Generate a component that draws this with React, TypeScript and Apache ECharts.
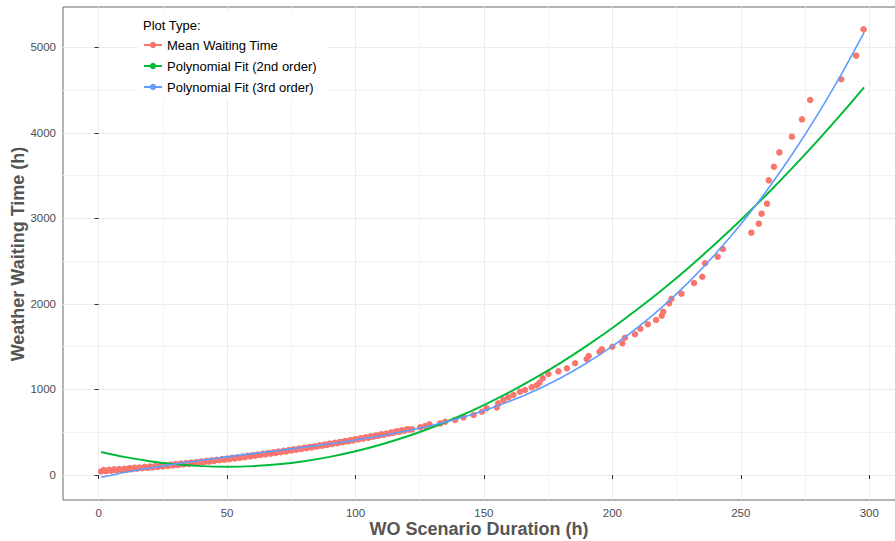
import React, { useEffect, useRef } from "react";
import * as echarts from "echarts";

// Scenario durations (h) and mean waiting times (h)
const meanDuration = [
  1, 3, 5, 7, 9, 11, 13, 15, 17, 19, 21, 23, 25, 27, 29, 31, 33, 35, 37, 39,
  41, 43, 45, 47, 49, 51, 53, 55, 57, 59, 61, 63, 65, 67, 69, 71, 73, 75, 77, 79,
  81, 83, 85, 87, 89, 91, 93, 95, 97, 99, 101, 103, 105, 107, 109, 111, 113, 115, 117, 119,
  121, 122, 125.2, 127.1, 128.8, 133, 134.9, 138.8, 142, 146, 149.2, 151.1, 155, 155.6, 157.6, 159.5,
  161.5, 164, 166, 168.6, 170.5, 171.6, 172.9, 175.1, 179, 182.3, 185.5, 190, 190.8, 195, 195.9, 200,
  203.9, 204.9, 208.8, 210.9, 213.8, 217, 219.2, 219.8, 222.1, 223, 226.9, 231.8, 235, 236.1, 241, 243,
  254.1, 257, 258.1, 260.2, 260.9, 262.9, 265, 269.9, 273.8, 277, 289.1, 294.9, 297.8,
  2, 4, 6, 8, 10, 12, 14, 16, 18, 20, 22, 24, 26, 28, 30, 32, 34, 36, 38, 40,
  42, 44, 46, 48, 50, 52, 54, 56, 58, 60, 62, 64, 66, 68, 70, 72, 74, 76, 78, 80,
  82, 84, 86, 88, 90, 92, 94, 96, 98, 100, 102, 104, 106, 108, 110, 112, 114, 116, 118, 120,
];
const meanWaiting = [
  42, 46, 50, 55, 59, 64, 69, 74, 79, 84, 90, 95, 101, 106, 112, 118, 124, 131, 137, 144,
  151, 157, 164, 172, 179, 186, 194, 201, 209, 217, 225, 234, 242, 250, 259, 268, 277, 286, 295, 304,
  314, 323, 333, 343, 353, 363, 373, 383, 394, 405, 415, 426, 437, 449, 460, 471, 483, 495, 507, 519,
  531, 534, 558, 573, 593, 604, 623, 643, 674, 701, 740, 780, 791, 838, 877, 908,
  935, 974, 994, 1025, 1050, 1079, 1130, 1181, 1212, 1247, 1306, 1356, 1391, 1441, 1469, 1500,
  1540, 1605, 1645, 1710, 1762, 1812, 1862, 1909, 2007, 2061, 2120, 2245, 2318, 2475, 2552, 2642,
  2833, 2938, 3055, 3172, 3445, 3604, 3772, 3955, 4158, 4384, 4626, 4902, 5210,
  58, 60, 66, 70, 73, 80, 84, 88, 95, 99, 106, 110, 117, 121, 128, 134, 139, 146, 152, 159,
  165, 172, 179, 186, 193, 201, 208, 216, 224, 232, 240, 248, 256, 265, 274, 282, 291, 300, 309, 318,
  328, 337, 347, 357, 367, 377, 387, 398, 408, 419, 430, 441, 452, 463, 475, 486, 498, 510, 522, 534,
];

// Fitted curves
const fitDuration = [1, 10, 20, 30, 40, 50, 60, 70, 80, 90, 100, 110, 120, 130, 140, 150, 160, 170, 180, 190, 200, 210, 220, 230, 240, 250, 260, 270, 280, 290, 298];
const fit2nd = [270, 212, 162, 126, 104, 97, 104, 126, 162, 212, 277, 357, 450, 558, 681, 818, 969, 1135, 1315, 1510, 1719, 1943, 2181, 2433, 2700, 2981, 3277, 3587, 3911, 4250, 4531];
const fit3rd = [-27, 30, 82, 130, 172, 212, 250, 287, 325, 365, 410, 460, 517, 582, 660, 752, 861, 989, 1138, 1309, 1506, 1729, 1981, 2264, 2581, 2932, 3321, 3749, 4219, 4731, 5173];

const xTicks = [0, 50, 100, 150, 200, 250, 300];
const xMinorTicks = [25, 75, 125, 175, 225, 275];
const yTicks = [0, 1000, 2000, 3000, 4000, 5000];
const yMinorTicks = [500, 1500, 2500, 3500, 4500];

const xTitle = "WO Scenario Duration (h)";
const yTitle = "Weather Waiting Time (h)";
const legendTitle = "Plot Type:";
const legendNames = ["Mean Waiting Time", "Polynomial Fit (2nd order)", "Polynomial Fit (3rd order)"];
const colors = ["#F8766D", "#00BA38", "#619CFF"];

const FONT = "Liberation Sans, Arial, sans-serif";

export default function App() {
  const ref = useRef<HTMLDivElement>(null);

  useEffect(() => {
    if (!ref.current) return;
    const chart = echarts.init(ref.current, null, { renderer: "svg" });

    const xMin = -13.85;
    const xMax = 310.8;
    const yMin = -292;
    const yMax = 5471;

    const majorGrid = { show: true, lineStyle: { color: "#EBEBEB", width: 1 } };
    const minorGrid = { show: true, lineStyle: { color: "#F3F3F3", width: 1 } };

    const titleStyle = { fontSize: 18, fontWeight: "bold", fontFamily: FONT, fill: "#555555", align: "center", verticalAlign: "middle" };

    const legendRows = [45, 66, 87];
    const graphics: any[] = [
      { type: "text", x: 479, y: 529, style: { ...titleStyle, text: xTitle } },
      { type: "text", x: 18, y: 254, rotation: Math.PI / 2, style: { ...titleStyle, text: yTitle } },
      { type: "rect", shape: { x: 138, y: 12, width: 190, height: 87 }, style: { fill: "#ffffff" }, z: 10 },
      {
        type: "text", x: 143, y: 25, z: 11,
        style: { text: legendTitle, fontSize: 13, fontFamily: FONT, fill: "#000", verticalAlign: "middle", align: "left" },
      },
    ];
    legendNames.forEach((name, i) => {
      const y = legendRows[i];
      graphics.push(
        { type: "line", z: 11, shape: { x1: 144, y1: y, x2: 162, y2: y }, style: { stroke: colors[i], lineWidth: 2 } },
        { type: "circle", z: 12, shape: { cx: 153, cy: y, r: 3.2 }, style: { fill: colors[i] } },
        {
          type: "text", x: 167, y, z: 11,
          style: { text: name, fontSize: 13, fontFamily: FONT, fill: "#000", verticalAlign: "middle", align: "left" },
        }
      );
    });

    const plain = (v: number) => String(v);

    chart.setOption({
      animation: false,
      backgroundColor: "#ffffff",
      grid: {
        left: 63, top: 7, right: -2, bottom: 41,
        show: true, borderColor: "#666666", borderWidth: 1, backgroundColor: "#ffffff",
        containLabel: false,
        outerBoundsMode: "none",
      },
      xAxis: [
        {
          type: "value", min: xMin, max: xMax,
          axisLine: { show: false },
          axisTick: { show: true, length: 4, lineStyle: { color: "#333333" }, customValues: xTicks },
          axisLabel: { show: true, margin: 7, fontSize: 11.5, color: "#4D4D4D", fontFamily: FONT, customValues: xTicks, formatter: plain },
          splitLine: majorGrid,
        },
        {
          type: "value", min: xMin, max: xMax, position: "bottom",
          axisLine: { show: false },
          axisTick: { show: false, customValues: xMinorTicks },
          axisLabel: { show: false, customValues: xMinorTicks },
          splitLine: minorGrid,
        },
      ],
      yAxis: [
        {
          type: "value", min: yMin, max: yMax,
          axisLine: { show: false },
          axisTick: { show: true, length: 4, lineStyle: { color: "#333333" }, customValues: yTicks },
          axisLabel: { show: true, margin: 7, fontSize: 11.5, color: "#4D4D4D", fontFamily: FONT, customValues: yTicks, formatter: plain },
          splitLine: majorGrid,
        },
        {
          type: "value", min: yMin, max: yMax, position: "left",
          axisLine: { show: false },
          axisTick: { show: false, customValues: yMinorTicks },
          axisLabel: { show: false, customValues: yMinorTicks },
          splitLine: minorGrid,
        },
      ],
      series: [
        {
          name: legendNames[0], type: "scatter", symbol: "circle", symbolSize: 6.5,
          itemStyle: { color: colors[0], opacity: 1 },
          data: meanDuration.map((x, i) => [x, meanWaiting[i]]),
          z: 2,
        },
        {
          name: legendNames[1], type: "line", showSymbol: false, smooth: 0.3,
          lineStyle: { color: colors[1], width: 2 },
          data: fitDuration.map((x, i) => [x, fit2nd[i]]),
          z: 3,
        },
        {
          name: legendNames[2], type: "line", showSymbol: false, smooth: 0.3,
          lineStyle: { color: colors[2], width: 1.6 },
          data: fitDuration.map((x, i) => [x, fit3rd[i]]),
          z: 4,
        },
      ],
      graphic: graphics,
    });

    return () => chart.dispose();
  }, []);

  return (
    <div
      ref={ref}
      style={{ position: "absolute", left: 0, top: 0, width: 895, height: 541, background: "#fff" }}
    />
  );
}
